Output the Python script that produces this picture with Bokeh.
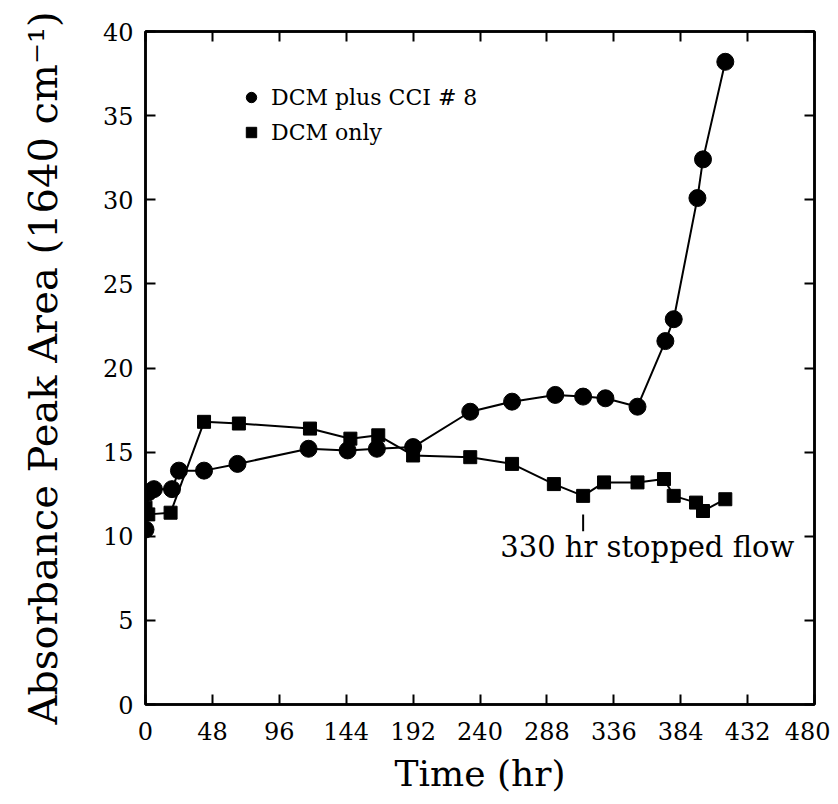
from bokeh.plotting import figure
from bokeh.models import Range1d, FixedTicker, LinearAxis, Legend, LegendItem, ColumnDataSource
from bokeh.core.properties import value
from bokeh.embed import file_html
from bokeh.resources import INLINE

# ---- data ----
cci_time = [0, 2, 6, 19, 24, 42, 66, 117, 145, 166, 192, 233, 263, 294, 314, 330, 353, 373, 379, 396, 400, 416]
cci_area = [10.4, 12.6, 12.8, 12.8, 13.9, 13.9, 14.3, 15.2, 15.1, 15.2, 15.3, 17.4, 18.0, 18.4, 18.3, 18.2, 17.7, 21.6, 22.9, 30.1, 32.4, 38.2]

dcm_time = [0, 2, 18, 42, 67, 118, 147, 167, 192, 233, 263, 293, 314, 329, 353, 372, 379, 395, 400, 416]
dcm_area = [11.7, 11.3, 11.4, 16.8, 16.7, 16.4, 15.8, 16.0, 14.8, 14.7, 14.3, 13.1, 12.4, 13.2, 13.2, 13.4, 12.4, 12.0, 11.5, 12.2]

x_ticks = [0, 48, 96, 144, 192, 240, 288, 336, 384, 432, 480]
y_ticks = [0, 5, 10, 15, 20, 25, 30, 35, 40]

note_x = [360]
note_y = [9.35]
note_text = ["330 hr stopped flow"]
stop_x = [314]
stop_y0 = [10.3]
stop_y1 = [11.3]

series_labels = ["DCM plus CCI # 8", "DCM only"]
x_title = "Time (hr)"
y_title = "Absorbance Peak Area (1640 cm\u207b\u00b9)"

FONT = "DejaVu Serif"

p = figure(width=830, height=796, x_range=Range1d(0, 480), y_range=Range1d(0, 40),
           output_backend="svg", toolbar_location=None,
           min_border_left=145, min_border_right=16, min_border_top=31, min_border_bottom=90)
p.grid.visible = False
p.outline_line_color = "black"
p.outline_line_width = 2.5
p.background_fill_color = "white"
p.border_fill_color = "white"

def style_axis(ax, labels=True):
    ax.axis_line_color = "black"
    ax.axis_line_width = 2.5
    ax.major_tick_line_color = "black"
    ax.major_tick_line_width = 2
    ax.major_tick_in = 10
    ax.major_tick_out = 0
    ax.minor_tick_line_color = None
    ax.major_label_text_font = FONT
    if labels:
        ax.major_label_text_color = "black"
        ax.major_label_text_font_size = "24px"
    else:
        ax.major_label_text_color = None
        ax.major_label_text_font_size = "10px"
        ax.major_label_standoff = 0

p.xaxis.ticker = FixedTicker(ticks=x_ticks)
p.yaxis.ticker = FixedTicker(ticks=y_ticks)
style_axis(p.xaxis[0])
style_axis(p.yaxis[0])
p.xaxis.major_label_standoff = 17
p.yaxis.major_label_standoff = 12

p.xaxis.axis_label = x_title
p.yaxis.axis_label = y_title
for ax, size in ((p.xaxis, "36px"), (p.yaxis, "40px")):
    ax.axis_label_text_font = FONT
    ax.axis_label_text_font_style = "normal"
    ax.axis_label_text_color = "black"
    ax.axis_label_text_font_size = size
p.xaxis.axis_label_standoff = 10
p.yaxis.axis_label_standoff = 34

top = LinearAxis(ticker=FixedTicker(ticks=x_ticks))
right = LinearAxis(ticker=FixedTicker(ticks=y_ticks))
style_axis(top, labels=False)
style_axis(right, labels=False)
p.add_layout(top, "above")
p.add_layout(right, "right")

src_c = ColumnDataSource(dict(x=cci_time, y=cci_area))
src_d = ColumnDataSource(dict(x=dcm_time, y=dcm_area))

p.line("x", "y", source=src_c, line_color="black", line_width=2)
rc = p.scatter("x", "y", source=src_c, marker="circle", size=17, fill_color="black", line_color="black")
p.line("x", "y", source=src_d, line_color="black", line_width=2)
rd = p.scatter("x", "y", source=src_d, marker="square", size=13, fill_color="black", line_color="black")

p.segment(x0=stop_x, y0=stop_y0, x1=stop_x, y1=stop_y1, line_color="black", line_width=2)
p.text(x=note_x, y=note_y, text=note_text, text_font=value(FONT), text_font_size="29px",
       text_align="center", text_baseline="middle", text_color="black")

legend = Legend(items=[LegendItem(label=series_labels[0], renderers=[rc]),
                       LegendItem(label=series_labels[1], renderers=[rd])],
                location=(93, 559))
legend.border_line_color = None
legend.background_fill_alpha = 0
legend.label_text_font = FONT
legend.label_text_font_size = "22px"
legend.label_text_color = "black"
legend.glyph_width = 26
legend.glyph_height = 26
legend.label_standoff = 7
legend.spacing = 9
legend.padding = 10
legend.margin = 0
p.add_layout(legend)

open("out.html", "w").write(file_html(p, INLINE))
